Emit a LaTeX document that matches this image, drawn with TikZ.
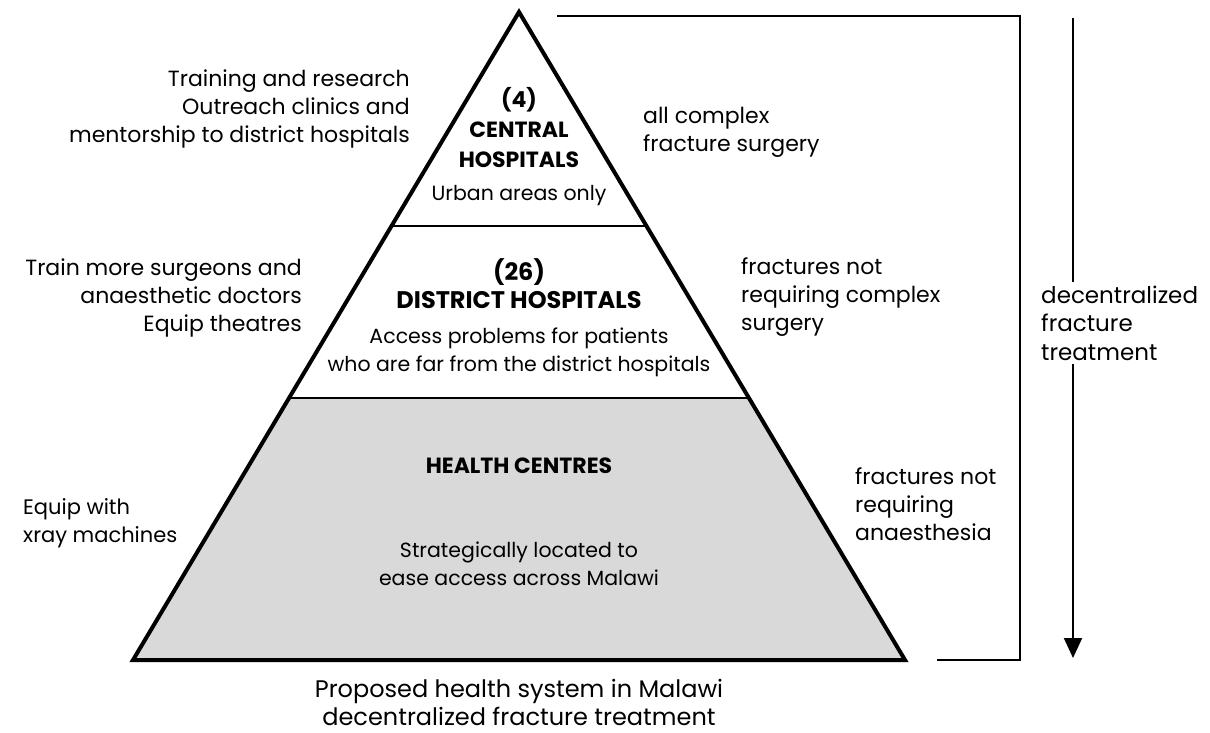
\documentclass[tikz,border=0pt]{standalone}
\usepackage{fontspec}
\setmainfont{Poppins}
\usetikzlibrary{arrows.meta}
\definecolor{tiergray}{HTML}{D9D9D9}
\tikzset{
  lbl/.style={font=\fontsize{22}{28}\selectfont, inner sep=0pt},
  tier/.style={font=\fontsize{20.5}{28}\selectfont, inner sep=0pt, align=center},
  ttl/.style={font=\fontsize{22}{30}\selectfont\bfseries, inner sep=0pt, align=center},
  edge/.style={line width=4pt, line join=miter},
  brk/.style={line width=2pt}
}
\begin{document}
\begin{tikzpicture}[x=1pt,y=-1pt]
\useasboundingbox (0,0) rectangle (1210,733);
% triangle corners
\coordinate (A) at (519,12);
\coordinate (BL) at (133,660);
\coordinate (BR) at (905,660);
\coordinate (L1) at (391.6,226);
\coordinate (R1) at (646.4,226);
\coordinate (L2) at (289.2,398);
\coordinate (R2) at (748.8,398);
% bottom tier fill
\fill[tiergray] (L2) -- (R2) -- (BR) -- (BL) -- cycle;
\draw[line width=2pt] (L1) -- (R1);
\draw[line width=2pt] (L2) -- (R2);
\draw[edge] (A) -- (BR) -- (BL) -- cycle;
% tier texts
\node[ttl] (cent) at (519,128) {(4)\\CENTRAL\\HOSPITALS};
\node[tier] (urban) at (519,196) {Urban areas only};
\node[ttl, font=\fontsize{24}{28}\selectfont\bfseries] (dist) at (519,284) {(26)\\DISTRICT HOSPITALS};
\node[tier] (access) at (519,352) {Access problems for patients\\who are far from the district hospitals};
\node[ttl] (hc) at (519,466) {HEALTH CENTRES};
\node[tier] (strat) at (519,564) {Strategically located to\\ease access across Malawi};
% side texts
\node[lbl, align=right, anchor=east] (tl) at (410,109) {Training and research\\Outreach clinics and\\mentorship to district hospitals};
\node[lbl, align=left, anchor=west] (tr) at (643,132) {all complex\\fracture surgery};
\node[lbl, align=right, anchor=east] (ml) at (302,298) {Train more surgeons and\\anaesthetic doctors\\Equip theatres};
\node[lbl, align=left, anchor=west] (mr) at (741,297) {fractures not\\requiring complex\\surgery};
\node[lbl, font=\fontsize{21}{28}\selectfont, align=left, anchor=west] (bl) at (23,523) {Equip with\\xray machines};
\node[lbl, align=left, anchor=west] (br) at (855,504) {fractures not\\requiring\\anaesthesia};
% caption
\node[font=\fontsize{24}{28}\selectfont, inner sep=0pt, align=center] (cap) at (519,702) {Proposed health system in Malawi\\decentralized fracture treatment};
% bracket
\coordinate (bk1) at (557,16);
\coordinate (bk2) at (1020,660);
\coordinate (bk3) at (937,660);
\draw[brk] (bk1) -| (bk2) -- (bk3);
% arrow
\coordinate (ar1) at (1073,18);
\coordinate (ar2) at (1073,658);
\draw[brk, -{Triangle[length=20pt,width=18pt]}] (ar1) -- (ar2);
\node[lbl, font=\fontsize{23}{28.5}\selectfont, align=left, anchor=west, fill=white, inner sep=4pt] (dft) at (1037,323) {decentralized\\fracture\\treatment};
\end{tikzpicture}
\end{document}
